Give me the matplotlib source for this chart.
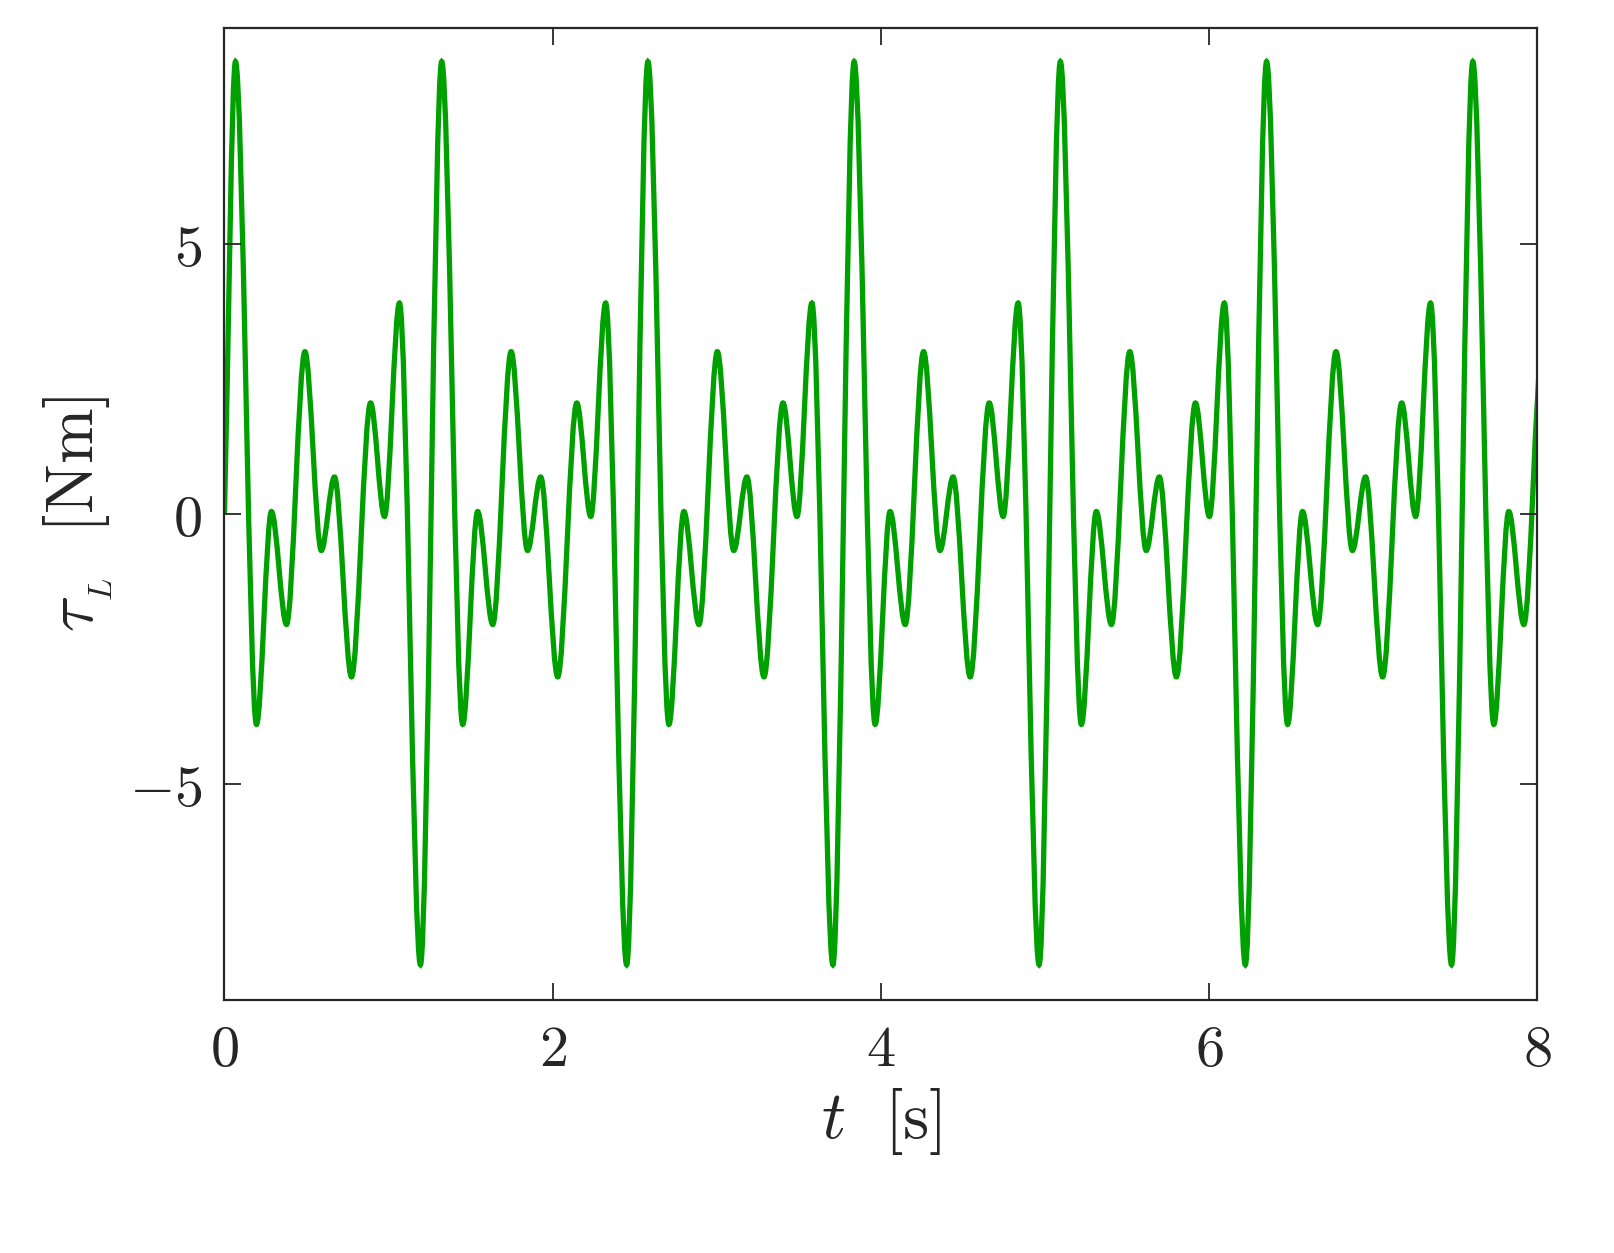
import matplotlib
matplotlib.use("Agg")
import matplotlib.pyplot as plt
from matplotlib.path import Path
from matplotlib.patches import PathPatch

plt.rcParams['mathtext.fontset'] = 'cm'
plt.rcParams['font.family'] = 'serif'
plt.rcParams['font.serif'] = ['DejaVu Serif']

# Extrema within one cycle (time from cycle start, value)
cycle_t = [0.067, 0.195, 0.286, 0.378, 0.490, 0.590, 0.670, 0.774, 0.890, 0.975, 1.066, 1.194]
cycle_y = [8.37, -3.90, 0.04, -2.05, 3.00, -0.68, 0.68, -3.02, 2.05, -0.05, 3.90, -8.35]
cycle_starts = [0.0, 1.2565, 2.513, 3.7695, 5.026, 6.2825, 7.539]
start_point = (0.0, 0.0)

pts = [start_point]
for c in cycle_starts:
    for tt, yy in zip(cycle_t, cycle_y):
        pts.append((c + tt, yy))

verts = [pts[0]]
codes = [Path.MOVETO]
for (x0, y0), (x1, y1) in zip(pts[:-1], pts[1:]):
    dx = (x1 - x0) / 3.0
    c1 = (x0 + dx, y0 if (x0, y0) != start_point else y0 + (y1 - y0) / 3)
    c2 = (x1 - dx, y1)
    verts += [c1, c2, (x1, y1)]
    codes += [Path.CURVE4] * 3

fig = plt.figure(figsize=(16.15, 12.53), dpi=100)
ax = fig.add_axes([0.139, 0.202, 0.813, 0.776])
ax.add_patch(PathPatch(Path(verts, codes), facecolor='none', edgecolor='#00a000', lw=3.8))
ax.set_xlim(0, 8)
ax.set_ylim(-9, 9)
ax.set_xticks([0, 2, 4, 6, 8])
ax.set_xticklabels([f'${v}$' for v in [0, 2, 4, 6, 8]])
ax.set_yticks([-5, 0, 5])
ax.set_yticklabels(['$-5$', '$0$', '$5$'])
ax.tick_params(direction='in', top=True, right=True, labelsize=42, length=12, width=1.3, pad=16, colors='#262626')
for s in ax.spines.values():
    s.set_linewidth(1.6)
    s.set_color('#262626')
ax.set_xlabel(r'$t\ \ [\mathrm{s}]$', fontsize=48, color='#262626', labelpad=6)
ax.set_ylabel(r'$\tau_{_L}\ \ [\mathrm{Nm}]$', fontsize=48, color='#262626', labelpad=10)
fig.savefig('out.png', dpi=100)
